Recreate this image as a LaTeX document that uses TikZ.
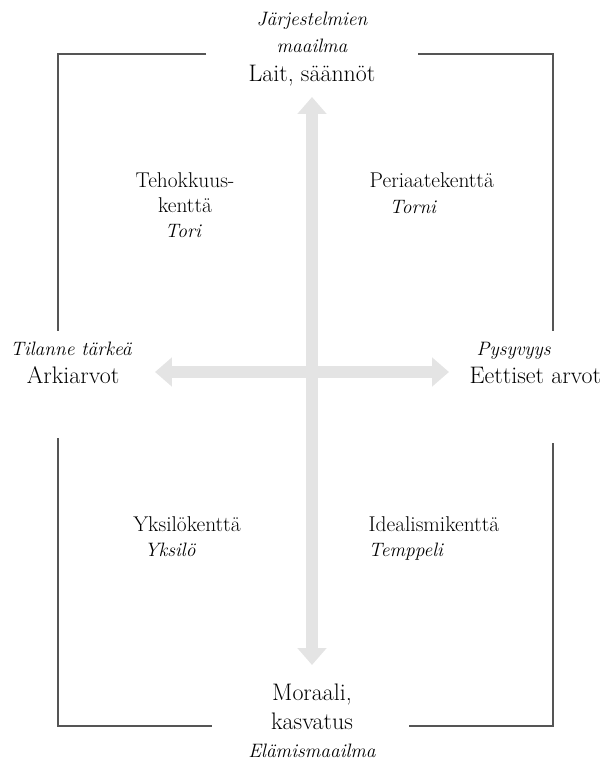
\documentclass[tikz,border=0pt]{standalone}
\usepackage{tikz}
\usetikzlibrary{arrows.meta}
\definecolor{cframe}{HTML}{555555}
\definecolor{carrow}{HTML}{E4E4E4}
\tikzset{
  big/.style={font=\fontsize{17}{20}\selectfont, inner sep=1pt, align=center},
  quad/.style={font=\fontsize{15.2}{18}\selectfont, inner sep=1pt, align=center},
  ital/.style={font=\fontsize{13.8}{19.8}\selectfont\itshape, inner sep=1pt, align=center},
  frame/.style={draw=cframe, line width=0.9pt},
  axis/.style={{Triangle[length=0.42cm,width=0.7cm]}-{Triangle[length=0.42cm,width=0.7cm]}, draw=carrow, line width=0.32cm},
}

\begin{document}
\begin{tikzpicture}[x=0.025cm, y=-0.025cm]
\useasboundingbox (0,0) rectangle (611,761);

% ================= frame corners =================
\draw[frame] (206,54) -- (58,54) -- (58,331);
\draw[frame] (418,54) -- (553,54) -- (553,331);
\draw[frame] (58,438) -- (58,726) -- (212,726);
\draw[frame] (553,443) -- (553,726) -- (409,726);

% ================= axes =================
\coordinate (atop) at (312,97);
\coordinate (abot) at (312,665);
\coordinate (aleft) at (155,372);
\coordinate (aright) at (449,372);
\draw[axis] (aleft) -- (aright);
\draw[axis] (atop) -- (abot);

% ================= axis ends =================
% (base of a two-line node = baseline of its last line)
\node[ital, anchor=base] (sysw) at (312,53) {Järjestelmien\\maailma};
\node[big, anchor=base] (laws) at (312,82) {Lait, säännöt};

\node[ital, anchor=base] (situ) at (71,355) {Tilanne tärkeä};
\node[big, anchor=base] (daily) at (73,383) {Arkiarvot};

\node[ital, anchor=base west] (perm) at (475,355) {Pysyvyys};
\node[big, anchor=base west] (ethic) at (468,383) {Eettiset arvot};

\node[big, anchor=base] (moral) at (312,729) {Moraali,\\kasvatus};
\node[ital, anchor=base] (lifew) at (312,757) {Elämismaailma};

% ================= quadrants =================
\node[quad, anchor=base] (effic) at (185,213) {Tehokkuus-\\kenttä};
\node[ital, anchor=base] (tori) at (183,238) {Tori};

\node[quad, anchor=base west] (princ) at (368,188) {Periaatekenttä};
\node[ital, anchor=base west] (torni) at (388,214) {Torni};

\node[quad, anchor=base] (indiv) at (187,531) {Yksilökenttä};
\node[ital, anchor=base] (yksi) at (170,556) {Yksilö};

\node[quad, anchor=base west] (ideal) at (367,531) {Idealismikenttä};
\node[ital, anchor=base west] (temp) at (367,556) {Temppeli};
\end{tikzpicture}
\end{document}
